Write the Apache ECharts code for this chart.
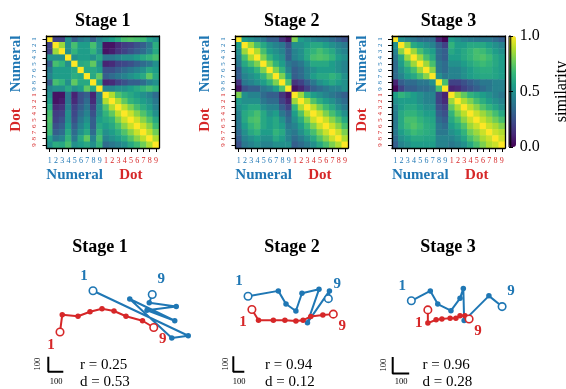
<!DOCTYPE html>
<html><head><meta charset="utf-8">
<script src="https://cdn.jsdelivr.net/npm/echarts@6/dist/echarts.min.js"></script>
<style>html,body{margin:0;padding:0;background:#fff}#c{width:566px;height:389px}</style>
</head><body><div id="c"></div>
<script>
// ---------- DATA ----------
const stageTitles = ['Stage 1', 'Stage 2', 'Stage 3'];
const numeralTicks = ['1','2','3','4','5','6','7','8','9'];
const dotTicks = ['1','2','3','4','5','6','7','8','9'];
const groupNames = ['Numeral', 'Dot'];
const colorbarTicks = [0, 0.5, 1];
const colorbarName = 'similarity';

// Upper triangles (row i lists columns i..17) of the symmetric similarity matrices
const stage1Upper = [
  [1.0,0.2,0.2,0.5,0.3,0.4,0.45,0.3,0.45, 0.5,0.55,0.62,0.7,0.72,0.7,0.68,0.57,0.5],
  [1.0,0.85,0.5,0.7,0.55,0.55,0.7,0.5, 0.05,0.05,0.12,0.18,0.2,0.25,0.3,0.4,0.62],
  [1.0,0.5,0.65,0.55,0.55,0.65,0.5, 0.05,0.08,0.15,0.2,0.25,0.3,0.35,0.45,0.6],
  [1.0,0.5,0.55,0.55,0.5,0.6, 0.4,0.4,0.45,0.5,0.5,0.55,0.6,0.65,0.7],
  [1.0,0.6,0.62,0.75,0.5, 0.1,0.12,0.2,0.22,0.25,0.3,0.35,0.4,0.5],
  [1.0,0.6,0.6,0.55, 0.25,0.25,0.3,0.35,0.4,0.45,0.5,0.6,0.55],
  [1.0,0.6,0.75, 0.3,0.35,0.4,0.45,0.5,0.55,0.6,0.75,0.6],
  [1.0,0.6, 0.1,0.12,0.2,0.25,0.3,0.3,0.35,0.45,0.5],
  [1.0, 0.45,0.45,0.5,0.5,0.55,0.6,0.65,0.7,0.65],
  [1.0,0.88,0.72,0.65,0.6,0.55,0.5,0.45,0.35],
  [1.0,0.88,0.75,0.65,0.6,0.55,0.5,0.4],
  [1.0,0.9,0.8,0.7,0.62,0.55,0.45],
  [1.0,0.92,0.82,0.72,0.62,0.5],
  [1.0,0.92,0.82,0.72,0.6],
  [1.0,0.92,0.82,0.68],
  [1.0,0.9,0.78],
  [1.0,0.88],
  [1.0]
];
const stage2Upper = [
  [1.0,0.55,0.5,0.45,0.4,0.3,0.3,0.15,0.05, 0.8,0.55,0.5,0.45,0.42,0.4,0.35,0.3,0.25],
  [1.0,0.85,0.7,0.6,0.5,0.45,0.4,0.25, 0.5,0.5,0.55,0.6,0.6,0.55,0.5,0.45,0.4],
  [1.0,0.88,0.7,0.55,0.5,0.45,0.3, 0.45,0.5,0.6,0.65,0.7,0.65,0.6,0.5,0.45],
  [1.0,0.8,0.65,0.55,0.5,0.3, 0.45,0.5,0.6,0.7,0.72,0.7,0.65,0.55,0.5],
  [1.0,0.8,0.65,0.55,0.4, 0.35,0.4,0.5,0.6,0.6,0.6,0.55,0.5,0.45],
  [1.0,0.8,0.65,0.45, 0.3,0.35,0.45,0.5,0.55,0.55,0.55,0.5,0.45],
  [1.0,0.8,0.55, 0.3,0.35,0.45,0.55,0.6,0.6,0.65,0.6,0.5],
  [1.0,0.72, 0.15,0.2,0.3,0.4,0.5,0.55,0.6,0.55,0.5],
  [1.0, 0.05,0.1,0.2,0.3,0.35,0.4,0.45,0.45,0.5],
  [1.0,0.85,0.65,0.55,0.5,0.45,0.4,0.35,0.3],
  [1.0,0.88,0.72,0.62,0.55,0.5,0.42,0.35],
  [1.0,0.9,0.78,0.68,0.6,0.5,0.42],
  [1.0,0.92,0.8,0.7,0.6,0.5],
  [1.0,0.92,0.82,0.72,0.6],
  [1.0,0.92,0.82,0.7],
  [1.0,0.92,0.8],
  [1.0,0.88],
  [1.0]
];
const stage3Upper = [
  [1.0,0.5,0.45,0.4,0.35,0.35,0.35,0.1,0.02, 0.55,0.5,0.45,0.42,0.4,0.4,0.4,0.35,0.3],
  [1.0,0.82,0.6,0.55,0.5,0.45,0.3,0.2, 0.65,0.55,0.55,0.6,0.6,0.6,0.55,0.5,0.45],
  [1.0,0.85,0.7,0.6,0.55,0.35,0.3, 0.6,0.55,0.6,0.65,0.7,0.68,0.62,0.55,0.5],
  [1.0,0.85,0.7,0.6,0.35,0.3, 0.55,0.55,0.6,0.65,0.7,0.72,0.68,0.6,0.55],
  [1.0,0.85,0.7,0.4,0.35, 0.5,0.5,0.55,0.6,0.65,0.68,0.65,0.6,0.55],
  [1.0,0.82,0.4,0.35, 0.45,0.45,0.5,0.55,0.6,0.62,0.62,0.58,0.55],
  [1.0,0.5,0.4, 0.45,0.45,0.5,0.55,0.58,0.6,0.6,0.58,0.55],
  [1.0,0.7, 0.2,0.2,0.25,0.3,0.35,0.4,0.4,0.45,0.45],
  [1.0, 0.1,0.12,0.2,0.25,0.3,0.35,0.4,0.45,0.45],
  [1.0,0.85,0.75,0.65,0.6,0.55,0.5,0.45,0.4],
  [1.0,0.88,0.8,0.7,0.62,0.55,0.5,0.45],
  [1.0,0.9,0.82,0.72,0.65,0.58,0.5],
  [1.0,0.92,0.85,0.78,0.7,0.6],
  [1.0,0.92,0.85,0.78,0.7],
  [1.0,0.92,0.87,0.8],
  [1.0,0.92,0.88],
  [1.0,0.92],
  [1.0]
];

// 2-D trajectories (units; scale bar = 100)
const stage1Numeral = [[420,595],[1055,295],[945,280],[665,540],[965,395],[780,465],[975,490],[795,515],[815,570]];
const stage1Dot     = [[200,320],[215,435],[320,425],[400,455],[480,475],[560,460],[640,425],[750,395],[825,350]];
const stage2Numeral = [[255,540],[530,575],[600,490],[690,445],[745,560],[900,585],[795,370],[995,575],[985,525]];
const stage2Dot     = [[290,455],[350,385],[485,385],[590,385],[690,380],[755,385],[825,410],[935,420],[1030,425]];
const stage3Numeral = [[190,480],[305,540],[350,460],[430,420],[485,495],[505,555],[510,360],[660,510],[740,445]];
const stage3Dot     = [[290,425],[290,345],[340,365],[375,370],[425,375],[460,375],[485,390],[515,390],[540,370]];
const scaleBarLength = 100;
const scaleBarOrigins = [[122,55],[121,54],[77,40]];
const rValues = ['0.25', '0.94', '0.96'];
const dValues = ['0.53', '0.12', '0.28'];

// ---------- STYLE / LAYOUT ----------
const BLUE = '#1f77b4', RED = '#d62728';
const SERIF = '"Liberation Serif","Times New Roman",serif';
const VIRIDIS = ['#440154','#482878','#3e4989','#31688e','#26828e','#1f9e89','#35b779','#6ece58','#b5de2b','#fde725'];
const hmLayout = [
  {left: 46.5, top: 36, width: 112.5, height: 112},
  {left: 235.5, top: 36, width: 112.5, height: 112},
  {left: 392, top: 36, width: 113, height: 112}
];
const cbLayout = {left: 509, top: 36, width: 7, height: 111};
const panelLayout = [
  {left: 30, top: 262, width: 180, height: 118, sx: 15, sy: 15},
  {left: 220, top: 262, width: 143, height: 118, sx: 11, sy: 15.5},
  {left: 380, top: 262, width: 140, height: 118, sx: 16.5, sy: 16.5}
];

const categories = numeralTicks.map(t => 'N' + t).concat(dotTicks.map(t => 'D' + t));
const catText = numeralTicks.concat(dotTicks);
const n = categories.length;

function fullMatrix(upper) {
  const M = [];
  for (let i = 0; i < n; i++) M.push(new Array(n).fill(0));
  for (let i = 0; i < n; i++) for (let k = 0; k < upper[i].length; k++) {
    const j = i + k; M[i][j] = upper[i][k]; M[j][i] = upper[i][k];
  }
  const data = [];
  for (let i = 0; i < n; i++) for (let j = 0; j < n; j++) data.push([j, i, M[i][j]]);
  return data;
}
const matrices = [stage1Upper, stage2Upper, stage3Upper].map(fullMatrix);
const trajectories = [[stage1Numeral, stage1Dot], [stage2Numeral, stage2Dot], [stage3Numeral, stage3Dot]];

const grids = [], xAxes = [], yAxes = [], series = [], graphics = [];
const frameLine = {show: true, onZero: false, lineStyle: {color: '#000', width: 1.3}};

hmLayout.forEach((L, g) => {
  grids.push({left: L.left, top: L.top, width: L.width, height: L.height, containLabel: false});
  const catColor = v => (String(v)[0] === 'N' ? BLUE : RED);
  const groupColor = v => (v === groupNames[0] ? BLUE : RED);
  xAxes.push({type: 'category', gridIndex: g, data: categories, position: 'bottom', z: 10,
    axisLine: frameLine,
    axisTick: {show: true, alignWithLabel: true, inside: false, length: 4, lineStyle: {color: '#000', width: 1}},
    axisLabel: {interval: 0, margin: 9, fontSize: 8, fontFamily: SERIF, formatter: (v, i) => catText[i], color: catColor},
    splitLine: {show: false}});
  xAxes.push({type: 'category', gridIndex: g, data: categories, position: 'top', z: 10,
    axisLine: frameLine, axisTick: {show: false}, axisLabel: {show: false}, splitLine: {show: false}});
  xAxes.push({type: 'category', gridIndex: g, data: groupNames, position: 'bottom', offset: 19,
    axisLine: {show: false}, axisTick: {show: false}, splitLine: {show: false},
    axisLabel: {interval: 0, margin: 0.5, fontSize: 15, fontWeight: 'bold', fontFamily: SERIF, color: groupColor}});
  yAxes.push({type: 'category', gridIndex: g, data: categories, inverse: true, position: 'left', z: 10,
    axisLine: frameLine,
    axisTick: {show: true, alignWithLabel: true, inside: false, length: 4, lineStyle: {color: '#000', width: 1}},
    axisLabel: {interval: 0, rotate: 90, margin: 8.5, fontSize: 7, fontFamily: SERIF, formatter: (v, i) => catText[i], color: catColor},
    splitLine: {show: false}});
  yAxes.push({type: 'category', gridIndex: g, data: categories, inverse: true, position: 'right', z: 10,
    axisLine: frameLine, axisTick: {show: false}, axisLabel: {show: false}, splitLine: {show: false}});
  yAxes.push({type: 'category', gridIndex: g, data: groupNames, inverse: true, position: 'left', offset: 22,
    axisLine: {show: false}, axisTick: {show: false}, splitLine: {show: false},
    axisLabel: {interval: 0, rotate: 90, margin: 0.5, fontSize: 15, fontWeight: 'bold', fontFamily: SERIF, color: groupColor}});
  series.push({type: 'heatmap', xAxisIndex: 3 * g, yAxisIndex: 3 * g, data: matrices[g],
    itemStyle: {borderWidth: 0}, emphasis: {disabled: true}, silent: true});
  graphics.push({type: 'text', x: L.left + L.width / 2, y: 21,
    style: {text: stageTitles[g], fontSize: 18, fontWeight: 'bold', fontFamily: SERIF, fill: '#000',
      align: 'center', verticalAlign: 'middle', textAlign: 'center', textVerticalAlign: 'middle'}});
});

// colorbar grid (index 3, axes index 9)
grids.push({left: cbLayout.left, top: cbLayout.top, width: cbLayout.width, height: cbLayout.height,
  show: true, borderColor: '#000', borderWidth: 1, backgroundColor: 'transparent', z: 10});
xAxes.push({type: 'value', gridIndex: 3, show: false, min: 0, max: 1});
yAxes.push({type: 'value', gridIndex: 3, min: colorbarTicks[0], max: colorbarTicks[2], interval: colorbarTicks[1] - colorbarTicks[0],
  position: 'right', z: 10,
  axisLine: {show: false}, splitLine: {show: false},
  axisTick: {show: true, inside: false, length: 4, lineStyle: {color: '#000', width: 1}},
  axisLabel: {margin: 9, fontSize: 16, fontFamily: SERIF, color: '#000', formatter: v => Number(v).toFixed(1)},
  name: colorbarName, nameLocation: 'middle', nameRotate: 90, nameGap: 43,
  nameTextStyle: {fontSize: 16, fontFamily: SERIF, color: '#000'}});

// trajectory panels (grids 4..6, axes 10..12)
panelLayout.forEach((P, p) => {
  const gi = 4 + p;
  const ai = 10 + p;
  grids.push({left: P.left, top: P.top, width: P.width, height: P.height});
  xAxes.push({type: 'value', gridIndex: gi, show: false, min: 0, max: P.width / P.sx * 100});
  yAxes.push({type: 'value', gridIndex: gi, show: false, min: 0, max: P.height / P.sy * 100});
  const [num, dot] = trajectories[p];
  const mk = (pts, color, labels, offs) => pts.map((pt, i) => {
    if (i === 0 || i === pts.length - 1) {
      const k = i === 0 ? 0 : 1;
      return {value: pt, symbol: 'circle', symbolSize: 7.5,
        itemStyle: {color: '#fff', borderColor: color, borderWidth: 1.6},
        label: {show: true, position: 'inside', offset: offs[k], formatter: labels[k],
          fontSize: 15, fontWeight: 'bold', fontFamily: SERIF, color: color}};
    }
    return {value: pt};
  });
  series.push({type: 'line', xAxisIndex: ai, yAxisIndex: ai, symbol: 'circle', symbolSize: 5.5, showAllSymbol: true,
    data: mk(num, BLUE, [numeralTicks[0], numeralTicks[8]], [[-9, -15], [9, -15]]),
    lineStyle: {color: BLUE, width: 2}, itemStyle: {color: BLUE}, silent: true, animation: false, clip: false, z: 3});
  series.push({type: 'line', xAxisIndex: ai, yAxisIndex: ai, symbol: 'circle', symbolSize: 5.5, showAllSymbol: true,
    data: mk(dot, RED, [dotTicks[0], dotTicks[8]], [[-9, 13], [9, 12]]),
    lineStyle: {color: RED, width: 2}, itemStyle: {color: RED}, silent: true, animation: false, clip: false, z: 4});
  const [ox, oy] = scaleBarOrigins[p];
  series.push({type: 'line', xAxisIndex: ai, yAxisIndex: ai, showSymbol: false, symbol: 'none',
    data: [[ox, oy + scaleBarLength], [ox, oy], [ox + scaleBarLength, oy]],
    lineStyle: {color: '#000', width: 2}, silent: true, animation: false, clip: false});
});

const bottomTitleX = [100, 292, 448];
const statX = [80, 265, 422.5];
const vScaleLabel = [[37.5, 364], [226, 364], [383.5, 365]];
const hScaleLabel = [[56, 382], [239, 382], [401, 382]];
for (let p = 0; p < 3; p++) {
  graphics.push({type: 'text', x: bottomTitleX[p], y: 247,
    style: {text: stageTitles[p], fontSize: 18, fontWeight: 'bold', fontFamily: SERIF, fill: '#000',
      align: 'center', verticalAlign: 'middle', textAlign: 'center', textVerticalAlign: 'middle'}});
  graphics.push({type: 'text', x: statX[p], y: 365,
    style: {text: 'r = ' + rValues[p], fontSize: 15, fontFamily: SERIF, fill: '#000',
      align: 'left', verticalAlign: 'middle', textAlign: 'left', textVerticalAlign: 'middle'}});
  graphics.push({type: 'text', x: statX[p], y: 382,
    style: {text: 'd = ' + dValues[p], fontSize: 15, fontFamily: SERIF, fill: '#000',
      align: 'left', verticalAlign: 'middle', textAlign: 'left', textVerticalAlign: 'middle'}});
  graphics.push({type: 'text', x: vScaleLabel[p][0], y: vScaleLabel[p][1], rotation: Math.PI / 2,
    style: {text: String(scaleBarLength), fontSize: 8.5, fontFamily: SERIF, fill: '#000',
      align: 'center', verticalAlign: 'middle', textAlign: 'center', textVerticalAlign: 'middle'}});
  graphics.push({type: 'text', x: hScaleLabel[p][0], y: hScaleLabel[p][1],
    style: {text: String(scaleBarLength), fontSize: 8.5, fontFamily: SERIF, fill: '#000',
      align: 'center', verticalAlign: 'middle', textAlign: 'center', textVerticalAlign: 'middle'}});
}

const chart = echarts.init(document.getElementById('c'), null, {renderer: 'canvas'});
chart.setOption({
  animation: false,
  backgroundColor: '#fff',
  grid: grids,
  xAxis: xAxes,
  yAxis: yAxes,
  visualMap: {type: 'continuous', min: 0, max: 1, seriesIndex: [0, 1, 2], orient: 'vertical',
    left: cbLayout.left, top: cbLayout.top, itemWidth: cbLayout.width, itemHeight: cbLayout.height,
    padding: 0, calculable: false, text: null, showLabel: false, hoverLink: false,
    inRange: {color: VIRIDIS}},
  series: series,
  graphic: graphics
});
</script></body></html>
